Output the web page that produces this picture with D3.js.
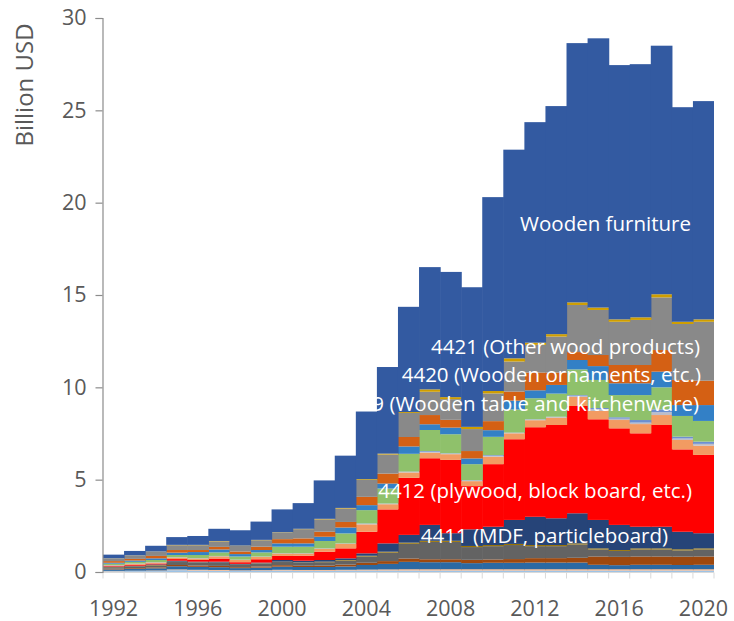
<!DOCTYPE html>
<html>
<head>
<meta charset="utf-8">
<script src="https://cdn.jsdelivr.net/npm/d3@7"></script>
<style>
  html, body { margin: 0; padding: 0; background: #ffffff; }
  svg { display: block; }
  text { font-family: "Open Sans", "Noto Sans", sans-serif; }
</style>
</head>
<body>
<svg id="chart" width="734" height="621"></svg>
<script>
// ---------------- DATA (billion USD) ----------------
const years = [1992,1993,1994,1995,1996,1997,1998,1999,2000,2001,2002,2003,2004,2005,2006,2007,2008,2009,2010,2011,2012,2013,2014,2015,2016,2017,2018,2019,2020];
const xTickYears = [1992,1996,2000,2004,2008,2012,2016,2020];
const yTicks = [0,5,10,15,20,25,30];

// stacked layers, bottom to top
const otherLightBlue  = [0.04,0.05,0.05,0.10,0.08,0.07,0.06,0.07,0.08,0.07,0.07,0.08,0.08,0.08,0.08,0.08,0.08,0.08,0.08,0.08,0.08,0.08,0.08,0.08,0.08,0.08,0.08,0.08,0.08];
const otherLightOrange= [0.02,0.02,0.03,0.04,0.04,0.04,0.03,0.03,0.04,0.04,0.04,0.04,0.05,0.06,0.07,0.07,0.07,0.07,0.07,0.07,0.07,0.07,0.07,0.07,0.07,0.07,0.07,0.07,0.07];
const otherBlue       = [0.08,0.10,0.12,0.17,0.16,0.15,0.12,0.14,0.17,0.16,0.16,0.18,0.25,0.30,0.40,0.38,0.38,0.33,0.35,0.35,0.36,0.36,0.36,0.24,0.22,0.24,0.24,0.23,0.24];
const otherBrown      = [0.04,0.04,0.05,0.07,0.07,0.07,0.05,0.06,0.08,0.07,0.08,0.10,0.12,0.15,0.18,0.16,0.16,0.18,0.18,0.20,0.24,0.24,0.26,0.45,0.45,0.45,0.45,0.45,0.45];
const otherDarkGray   = [0.08,0.10,0.11,0.16,0.15,0.16,0.12,0.15,0.17,0.16,0.18,0.22,0.34,0.46,0.80,0.94,0.94,0.69,0.72,0.76,0.65,0.65,0.72,0.38,0.32,0.38,0.38,0.34,0.38];
const otherOlive      = [0.01,0.01,0.02,0.02,0.02,0.02,0.02,0.02,0.02,0.02,0.03,0.03,0.04,0.05,0.06,0.06,0.06,0.06,0.06,0.06,0.06,0.06,0.06,0.06,0.05,0.06,0.06,0.06,0.06];
const hs4411          = [0.02,0.02,0.03,0.05,0.04,0.05,0.04,0.04,0.09,0.09,0.09,0.09,0.13,0.45,0.42,0.86,0.41,0.90,0.99,1.30,1.53,1.45,1.63,1.54,1.36,1.17,1.17,0.95,0.82];
const hs4412          = [0.03,0.05,0.05,0.09,0.09,0.17,0.09,0.18,0.22,0.27,0.45,0.54,1.17,1.84,3.09,3.61,3.97,2.34,3.39,4.37,4.85,5.05,5.81,5.45,5.23,5.06,5.51,4.46,4.24];
const hs4413_4414     = [0.04,0.05,0.05,0.08,0.08,0.12,0.12,0.13,0.13,0.12,0.16,0.25,0.40,0.28,0.29,0.30,0.31,0.27,0.40,0.32,0.38,0.40,0.49,0.45,0.45,0.50,0.54,0.51,0.50];
const hs4415          = [0.01,0.01,0.01,0.01,0.01,0.01,0.01,0.01,0.01,0.01,0.01,0.01,0.03,0.03,0.03,0.05,0.03,0.03,0.05,0.02,0.03,0.03,0.06,0.09,0.07,0.08,0.15,0.08,0.10];
const hs4416_4417     = [0.01,0.01,0.01,0.01,0.01,0.01,0.01,0.01,0.01,0.01,0.01,0.01,0.02,0.01,0.02,0.04,0.02,0.02,0.04,0.02,0.02,0.02,0.04,0.07,0.08,0.14,0.16,0.10,0.12];
const hs4418          = [0.07,0.09,0.12,0.12,0.17,0.19,0.17,0.22,0.35,0.35,0.40,0.54,0.72,0.81,0.96,1.14,1.03,0.87,0.99,1.25,1.14,1.25,1.39,1.52,1.20,1.35,1.19,1.12,1.12];
const hs4419          = [0.05,0.07,0.09,0.13,0.16,0.16,0.13,0.13,0.18,0.18,0.23,0.32,0.27,0.27,0.40,0.31,0.36,0.31,0.36,0.48,0.43,0.47,0.51,0.75,0.64,0.64,0.85,0.59,0.86];
const hs4420          = [0.09,0.09,0.13,0.14,0.11,0.14,0.14,0.18,0.23,0.27,0.27,0.30,0.45,0.54,0.51,0.50,0.42,0.40,0.49,0.49,0.96,0.67,0.43,0.60,0.99,0.99,1.17,1.36,1.32];
const hs4421          = [0.14,0.18,0.23,0.26,0.26,0.30,0.30,0.35,0.35,0.50,0.67,0.73,0.92,1.03,1.30,1.26,1.12,1.19,1.50,1.63,1.50,1.95,2.55,2.44,2.34,2.44,2.85,3.03,3.19];
const hsOtherWood     = [0.01,0.01,0.01,0.02,0.02,0.02,0.02,0.02,0.02,0.02,0.03,0.03,0.04,0.05,0.05,0.13,0.11,0.12,0.13,0.17,0.12,0.13,0.14,0.13,0.13,0.14,0.17,0.12,0.13];
const woodenFurniture = [0.20,0.24,0.31,0.42,0.48,0.66,0.83,0.99,1.24,1.39,2.08,2.83,3.66,4.69,5.70,6.62,6.78,7.56,10.50,11.30,11.94,12.35,14.04,14.58,13.77,13.71,13.46,11.62,11.82];

const seriesNames = ["otherLightBlue","otherLightOrange","otherBlue","otherBrown","otherDarkGray","otherOlive",
  "hs4411","hs4412","hs4413_4414","hs4415","hs4416_4417","hs4418","hs4419","hs4420","hs4421","hsOtherWood","woodenFurniture"];
const seriesValues = [otherLightBlue,otherLightOrange,otherBlue,otherBrown,otherDarkGray,otherOlive,
  hs4411,hs4412,hs4413_4414,hs4415,hs4416_4417,hs4418,hs4419,hs4420,hs4421,hsOtherWood,woodenFurniture];
const seriesColors = ["#9dc3e6","#f4b183","#2b69a3","#9e480e","#636363","#997300",
  "#264478","#ff0000","#f29b62","#bdbdc8","#6d8fd0","#8fc16b","#3380c6","#d46014","#898989","#cf9e00","#335aa1"];

const labels = [
  {text:"Wooden furniture", x:691, y:231},
  {text:"4421 (Other wood products)", x:700, y:354},
  {text:"4420 (Wooden ornaments, etc.)", x:701, y:382},
  {text:"4419 (Wooden table and kitchenware)", x:699, y:411},
  {text:"4412 (plywood, block board, etc.)", x:692, y:498},
  {text:"4411 (MDF, particleboard)", x:668, y:543}
];

// ---------------- CHART ----------------
const svg = d3.select("#chart");
const margin = {left:103, right:20, top:18, bottom:49};
const W = 734, H = 621;

const table = years.map((yr, i) => {
  const row = {year: yr};
  seriesNames.forEach((n, k) => row[n] = seriesValues[k][i]);
  return row;
});

const x = d3.scaleBand().domain(years).range([margin.left, W - margin.right]).padding(0);
const y = d3.scaleLinear().domain([0, 30]).range([H - margin.bottom, margin.top]);
const color = d3.scaleOrdinal().domain(seriesNames).range(seriesColors);

const stacked = d3.stack().keys(seriesNames)(table);
const lastYear = years[years.length - 1];

svg.append("g")
  .selectAll("g")
  .data(stacked)
  .join("g")
    .attr("fill", d => color(d.key))
  .selectAll("rect")
  .data(d => d)
  .join("rect")
    .attr("x", d => x(d.data.year))
    // slight overlap into the neighbouring bar hides anti-aliasing seams
    .attr("width", d => x.bandwidth() + (d.data.year === lastYear ? 0 : 0.6))
    .attr("y", d => y(d[1]))
    .attr("height", d => y(d[0]) - y(d[1]));

// X axis
const xAxisG = svg.append("g").attr("transform", `translate(0,${y(0) + 0.5})`);
xAxisG.append("line")
  .attr("x1", x.range()[0]).attr("x2", x.range()[1])
  .attr("y1", 0).attr("y2", 0)
  .attr("stroke", "#d9d9d9").attr("stroke-width", 1);
const boundaries = years.map(v => x(v)).concat([x(lastYear) + x.bandwidth()]);
xAxisG.selectAll("line.tk").data(boundaries).join("line")
  .attr("class","tk")
  .attr("x1", d => d).attr("x2", d => d)
  .attr("y1", 0).attr("y2", 6)
  .attr("stroke", "#d9d9d9").attr("stroke-width", 1);
xAxisG.selectAll("text").data(xTickYears).join("text")
  .attr("x", d => x(d) + x.bandwidth()/2)
  .attr("y", 43)
  .attr("text-anchor", "middle")
  .attr("fill", "#595959")
  .attr("font-size", 21.5)
  .text(d => d);

// Y axis
const yAxis = d3.axisLeft(y).tickValues(yTicks).tickSize(7).tickPadding(9).tickFormat(d3.format("d"));
const yAxisG = svg.append("g").attr("transform", `translate(${margin.left - 0.5},0)`).call(yAxis);
yAxisG.select(".domain").attr("stroke", "#8c8c8c").attr("stroke-width", 1.2);
yAxisG.selectAll(".tick line").attr("stroke", "#8c8c8c").attr("stroke-width", 1.2);
yAxisG.selectAll(".tick text")
  .attr("fill", "#595959")
  .attr("font-size", 21.5)
  .attr("font-family", '"Open Sans", "Noto Sans", sans-serif');

// Y title
svg.append("text")
  .attr("transform", `translate(33,${85}) rotate(-90)`)
  .attr("text-anchor", "middle")
  .attr("fill", "#595959")
  .attr("font-size", 24)
  .text("Billion USD");

// Series labels
svg.append("g").selectAll("text").data(labels).join("text")
  .attr("x", d => d.x).attr("y", d => d.y)
  .attr("text-anchor", "end")
  .attr("fill", "#ffffff")
  .attr("font-size", 20.5)
  .text(d => d.text);
</script>
</body>
</html>
